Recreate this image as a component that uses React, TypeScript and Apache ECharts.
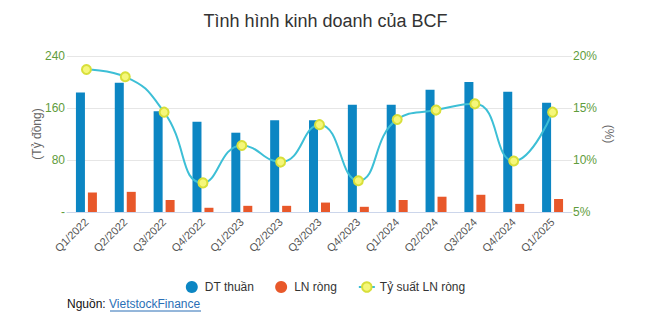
import React, { useEffect, useRef } from "react";
import * as echarts from "echarts";

const categories = ["Q1/2022","Q2/2022","Q3/2022","Q4/2022","Q1/2023","Q2/2023","Q3/2023","Q4/2023","Q1/2024","Q2/2024","Q3/2024","Q4/2024","Q1/2025"];
const dtThuan = [184, 199, 155, 139, 122, 141, 141, 165, 165, 188, 200, 185, 168];
const lnRong = [30, 31, 18.5, 6.5, 9.5, 9.5, 14.5, 8, 18.5, 23.5, 26.5, 12.5, 20];
const tySuat = [18.7, 18.0, 14.6, 7.8, 11.4, 9.8, 13.4, 8.0, 13.9, 14.8, 15.4, 9.9, 14.6];

const FONT = "Liberation Sans, Arial, sans-serif";
const GREEN = "#5f9c3c";

export default function App() {
  const ref = useRef<HTMLDivElement>(null);
  useEffect(() => {
    const chart = echarts.init(ref.current!, null, { renderer: "svg" });
    chart.setOption({
      animation: false,
      textStyle: { fontFamily: FONT },
      title: {
        text: "Tình hình kinh doanh của BCF",
        left: "center",
        top: 7,
        textStyle: { fontSize: 18, fontWeight: "normal", color: "#333", fontFamily: FONT },
      },
      grid: { left: 67, right: 79, top: 56, bottom: 119, containLabel: false },
      legend: {
        top: 276,
        left: "center",
        itemGap: 21,
        itemWidth: 16,
        itemHeight: 12,
        textStyle: { fontSize: 12, color: "#333", fontFamily: FONT },
        data: [
          { name: "DT thuần", icon: "circle" },
          { name: "LN ròng", icon: "circle" },
          { name: "Tỷ suất LN ròng" },
        ],
      },
      xAxis: {
        type: "category",
        data: categories,
        boundaryGap: true,
        axisLine: { lineStyle: { color: "#ccd6eb" } },
        axisTick: { alignWithLabel: false, length: 8, lineStyle: { color: "#ccd6eb" } },
        axisLabel: { rotate: 45, fontSize: 11, color: "#555", margin: 8, interval: 0 },
      },
      yAxis: [
        {
          type: "value",
          min: 0,
          max: 240,
          interval: 80,
          axisLabel: { color: GREEN, fontSize: 12, margin: 2, formatter: (v: number) => (v === 0 ? "-" : String(v)) },
          splitLine: { lineStyle: { color: "#e6e6e6" } },
          axisLine: { show: false },
          axisTick: { show: false },
        },
        {
          type: "value",
          min: 5,
          max: 20,
          interval: 5,
          axisLabel: { color: GREEN, fontSize: 12, margin: 1, formatter: "{value}%" },
          splitLine: { show: false },
          axisLine: { show: false },
          axisTick: { show: false },
        },
      ],
      series: [
        {
          name: "DT thuần",
          type: "bar",
          data: dtThuan,
          barWidth: 9,
          barGap: "33%",
          itemStyle: { color: "#0c86c3" },
        },
        {
          name: "LN ròng",
          type: "bar",
          data: lnRong,
          barWidth: 9,
          itemStyle: { color: "#e8582a" },
        },
        {
          name: "Tỷ suất LN ròng",
          type: "line",
          yAxisIndex: 1,
          data: tySuat,
          smooth: 0.5,
          symbol: "circle",
          symbolSize: 9,
          lineStyle: { color: "#3dbfd6", width: 2 },
          itemStyle: { color: "#f5f77a", borderColor: "#d8df3a", borderWidth: 2 },
          z: 5,
        },
      ],
      graphic: [
        {
          type: "text",
          x: 37,
          y: 134,
          rotation: Math.PI / 2,
          style: { text: "(Tỷ đồng)", fill: "#666", fontSize: 12, fontFamily: FONT, align: "center", verticalAlign: "middle" },
        },
        {
          type: "text",
          x: 609,
          y: 134,
          rotation: -Math.PI / 2,
          style: { text: "(%)", fill: "#666", fontSize: 12, fontFamily: FONT, align: "center", verticalAlign: "middle" },
        },
        {
          type: "text",
          left: 67,
          top: 298,
          style: {
            text: "{a|Nguồn: }{b|VietstockFinance}",
            rich: {
              a: { fontSize: 12, fill: "#111", fontFamily: FONT },
              b: { fontSize: 12, fill: "#2a6fb6", fontFamily: FONT },
            },
          },
        },
        {
          type: "line",
          shape: { x1: 110, y1: 311, x2: 201, y2: 311 },
          style: { stroke: "#2a6fb6", lineWidth: 1 },
        },
      ],
    });
    return () => chart.dispose();
  }, []);
  return <div ref={ref} style={{ position: "absolute", left: 0, top: 0, width: 651, height: 331 }} />;
}
